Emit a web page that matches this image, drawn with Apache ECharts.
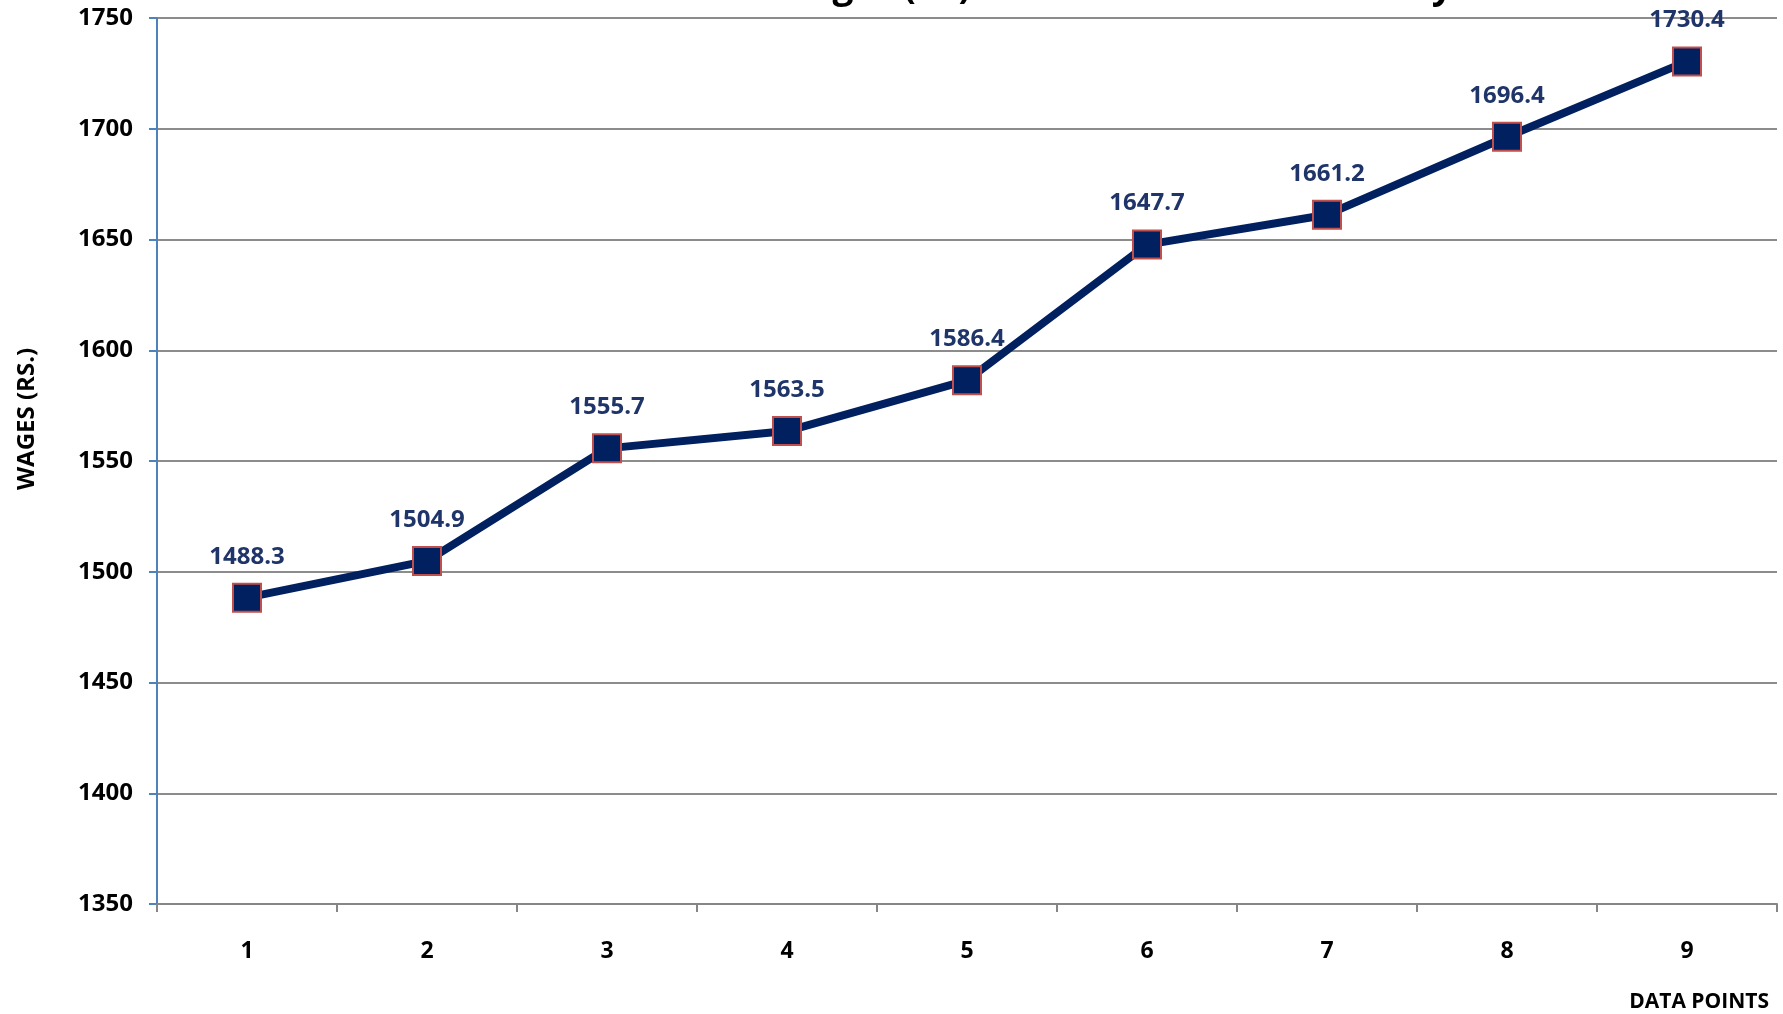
<!DOCTYPE html>
<html lang="en">
<head>
    <meta charset="UTF-8">
    <title>Wages</title>
    <script src="https://cdn.jsdelivr.net/npm/echarts@6/dist/echarts.min.js"></script>
</head>
<style>
    body{
        width: 100%;
        height: 100%;
        margin: 0;
        padding: 0;
        background: #fff;
    }
</style>
<body>
<div id="main" style="width: 1783px;height:1014px;"></div>
<script>
    // values
    var points = ['1', '2', '3', '4', '5', '6', '7', '8', '9'];
    var wages = [1488.3, 1504.9, 1555.7, 1563.5, 1586.4, 1647.7, 1661.2, 1696.4, 1730.4];

    var font = 'Open Sans';
    var chart = echarts.init(document.getElementById('main'));
    var option = {
        animation: false,
        title: {
            // title is mostly cut off at the top edge in the original
            text: 'Absolute Wages (Rs) in Cotton Textile Industry',
            left: 596,
            top: -36,
            textStyle: {fontFamily: font, fontSize: 37, fontWeight: 'bold', color: '#000'}
        },
        grid: {left: 157, right: 6, top: 18, bottom: 110},
        xAxis: {
            type: 'category',
            data: points,
            boundaryGap: true,
            name: 'DATA POINTS',
            nameLocation: 'end',
            nameGap: 0,
            nameTextStyle: {
                fontFamily: font, fontSize: 21, fontWeight: 'bold', color: '#000',
                align: 'right', verticalAlign: 'top', padding: [88, 8, 0, 0]
            },
            axisLine: {lineStyle: {color: '#868686', width: 2}},
            axisTick: {show: true, length: 8, lineStyle: {color: '#868686', width: 2}},
            axisLabel: {fontFamily: font, fontSize: 23, fontWeight: 'bold', color: '#000', margin: 36}
        },
        yAxis: {
            type: 'value',
            min: 1350,
            max: 1750,
            interval: 50,
            name: 'WAGES (RS.)',
            nameLocation: 'middle',
            nameGap: 118,
            nameRotate: 90,
            nameTextStyle: {fontFamily: font, fontSize: 24, fontWeight: 'bold', color: '#000', padding: [0, 0, 0, 84]},
            axisLine: {show: true, lineStyle: {color: '#4F81BD', width: 2}},
            axisTick: {show: true, length: 8, lineStyle: {color: '#4F81BD', width: 2}},
            axisLabel: {
                fontFamily: font, fontSize: 24, fontWeight: 'bold', color: '#000', margin: 24,
                formatter: function (v) { return String(v); }
            },
            splitLine: {lineStyle: {color: '#8C8C8C', width: 2}}
        },
        series: [{
            type: 'line',
            data: wages,
            symbol: 'rect',
            symbolSize: 28,
            lineStyle: {color: '#002060', width: 8},
            itemStyle: {color: '#002060', borderColor: '#C0504D', borderWidth: 2},
            label: {
                show: true,
                position: 'top',
                distance: 14,
                fontFamily: font,
                fontSize: 24,
                fontWeight: 'bold',
                color: '#1F3468'
            }
        }]
    };
    chart.setOption(option);
</script>
</body>
</html>
